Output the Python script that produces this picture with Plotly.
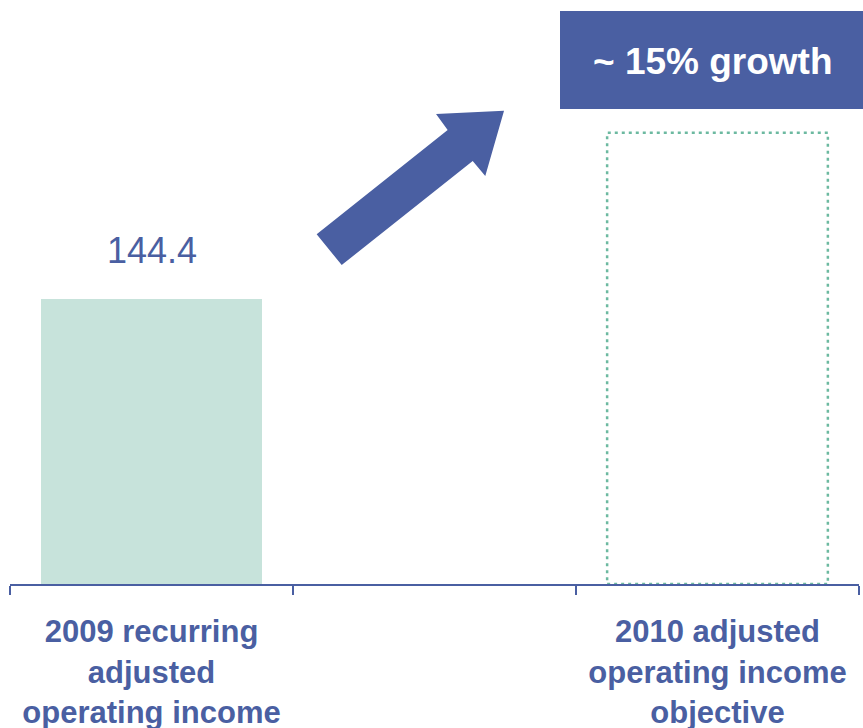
import plotly.graph_objects as go

# ---- data ----
categories = ["2009 recurring<br>adjusted<br>operating income", " ", "2010 adjusted<br>operating income<br>objective"]
actual_values = [144.4]
actual_cats = [categories[0]]
objective_value = 228.6   # placeholder height of dotted target bar
objective_cat_index = 2
growth_label = "~ 15% growth"
value_labels = ["144.4"]

BLUE = "#4a5fa2"
GREEN = "#c7e3db"
DOT = "#6cb9a0"

W, H = 863, 728
ML, MR, MT, MB = 10, 4, 0, 144
PW, PH = W - ML - MR, H - MT - MB
YMAX = 295.9

fig = go.Figure()
fig.add_trace(go.Bar(
    x=actual_cats, y=actual_values, width=0.78,
    marker=dict(color=GREEN, line=dict(width=0)),
    hoverinfo="skip", showlegend=False,
))

# dotted objective bar
fig.add_shape(type="rect", xref="x", yref="y",
              x0=objective_cat_index - 0.39, x1=objective_cat_index + 0.39,
              y0=0, y1=objective_value,
              line=dict(color=DOT, width=2.5, dash="3px,4px"), fillcolor="rgba(0,0,0,0)",
              layer="below")

# value label
for c, v, t in zip(actual_cats, actual_values, value_labels):
    fig.add_annotation(x=c, y=v, text=t, showarrow=False, yanchor="bottom", yshift=26,
                       font=dict(family="Liberation Sans, Arial", size=36, color=BLUE))

def px_to_paper(px, py):
    return (px - ML) / PW, (H - MB - py) / PH

# growth arrow (decoration)
arrow_px = [(316.7, 234.3), (447.7, 130), (436, 114), (504, 110.7),
            (485.3, 176), (472.7, 161), (341.7, 265)]
pts = [px_to_paper(x, y) for x, y in arrow_px]
path = "M " + " L ".join(f"{x:.4f},{y:.4f}" for x, y in pts) + " Z"
fig.add_shape(type="path", xref="paper", yref="paper", path=path,
              fillcolor=BLUE, line=dict(width=0))

# growth box
bx0, by0 = px_to_paper(560, 109)
bx1, by1 = px_to_paper(863, 11)
fig.add_shape(type="rect", xref="paper", yref="paper", x0=bx0, x1=bx1, y0=by0, y1=by1,
              fillcolor=BLUE, line=dict(width=0))
tx, ty = px_to_paper(713, 61)
fig.add_annotation(xref="paper", yref="paper", x=tx, y=ty, text="<b>" + growth_label + "</b>",
                   showarrow=False, xanchor="center", yanchor="middle",
                   font=dict(family="Liberation Sans, Arial", size=37, color="white"))

fig.update_layout(
    width=W, height=H, margin=dict(l=ML, r=MR, t=MT, b=MB, autoexpand=False),
    paper_bgcolor="white", plot_bgcolor="white",
    xaxis=dict(type="category", categoryorder="array", categoryarray=categories,
               range=[-0.5, 2.5], tickson="boundaries", ticks="outside", ticklen=9,
               tickwidth=2, tickcolor=BLUE, showline=True, linecolor=BLUE, linewidth=2,
               showgrid=False, zeroline=False, tickangle=0, automargin=False,
               tickfont=dict(family="Liberation Sans, Arial", size=31, color=BLUE),
               ticklabelstandoff=19),
    yaxis=dict(range=[0, YMAX], visible=False, showgrid=False, zeroline=False),
    bargap=0,
)
fig.update_xaxes(tickvals=categories, ticktext=["<b>" + c.replace("<br>", "</b><br><b>") + "</b>" for c in categories])

fig.write_html("out.html")
